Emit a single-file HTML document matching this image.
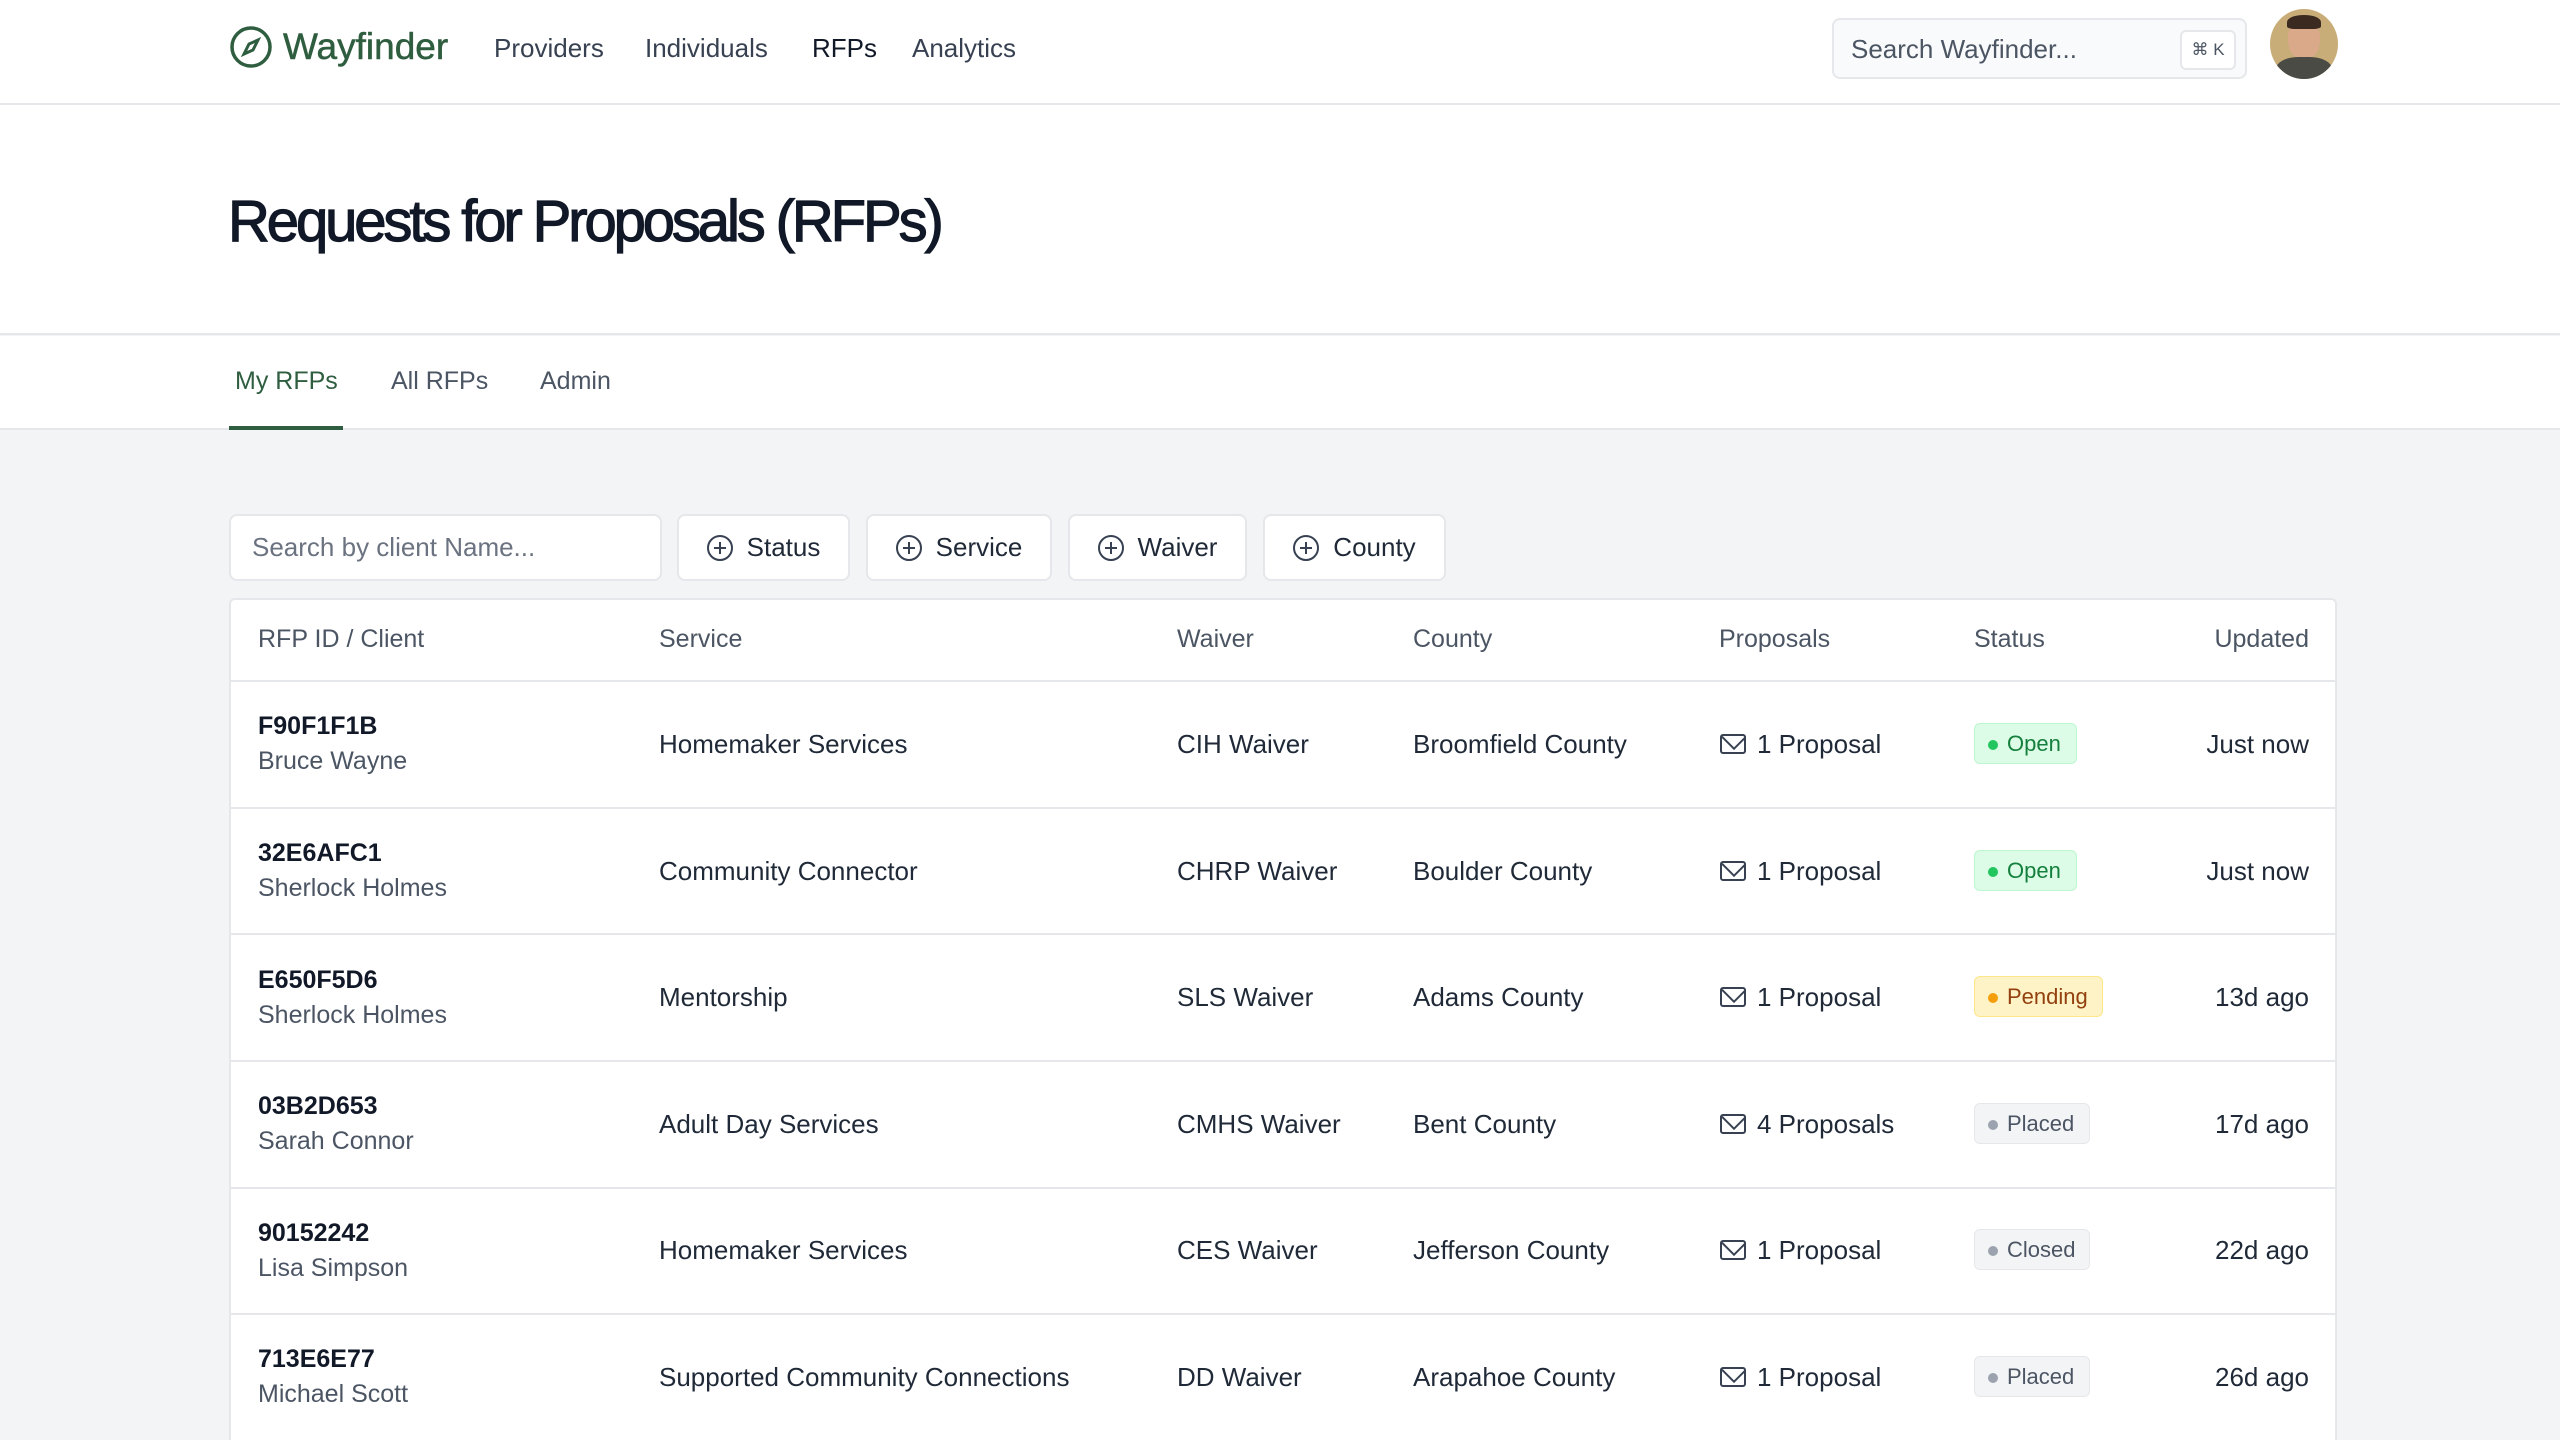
<!DOCTYPE html>
<html><head><meta charset="utf-8"><style>
*{box-sizing:border-box;margin:0;padding:0}
html{width:2560px;height:1440px;overflow:hidden}
body{width:2560px;height:1440px;overflow:hidden;background:#f3f4f6;font-family:"Liberation Sans",Arial,sans-serif;color:#111827;position:relative}
.a{position:absolute;white-space:nowrap}
.nav{position:absolute;left:0;top:0;width:2560px;height:105px;background:#fff;border-bottom:2px solid #e5e7eb}
.hdr{position:absolute;left:0;top:105px;width:2560px;height:230px;background:#fff;border-bottom:2px solid #e5e7eb}
.tabs{position:absolute;left:0;top:336px;width:2560px;height:94px;background:#fff;border-bottom:2px solid #e5e7eb}
.navl{font-size:26px;color:#374151;top:33px}
.btn{position:absolute;top:514px;height:67px;background:#fff;border:2px solid #e5e7eb;border-radius:8px;font-size:26px;color:#1f2937;display:flex;align-items:center;justify-content:center;gap:14px}
.plus{width:26px;height:26px;border:2px solid #374151;border-radius:50%;position:relative}
.plus:before{content:"";position:absolute;left:5px;top:10px;width:12px;height:2px;background:#374151}
.plus:after{content:"";position:absolute;left:10px;top:5px;width:2px;height:12px;background:#374151}
.table{position:absolute;left:229px;top:598px;width:2108px;height:842px;background:#fff;border:2px solid #e5e7eb;border-bottom:none;border-radius:6px 6px 0 0}
.th{font-size:25px;color:#4b5563;top:625px}
.line{position:absolute;left:230px;width:2106px;height:2px;background:#e5e7eb}
.c{font-size:26px;color:#1f2937}
.id{font-size:25px;font-weight:bold;color:#111827}
.nm{font-size:25px;color:#4b5563}
.badge{position:absolute;left:1974px;height:41px;border-radius:6px;font-size:22px;display:flex;align-items:center;padding-left:32px}
.badge:before{content:"";position:absolute;left:13px;top:16px;width:10px;height:10px;border-radius:50%;background:currentColor}
.open{background:#dcfce7;color:#15803d;border:1px solid #bbf7d0;width:103px}
.open:before{background:#22c55e}
.pend{background:#fef3c7;color:#92400e;border:1px solid #fde68a;width:129px}
.pend:before{background:#f59e0b}
.gray{background:#f3f4f6;color:#4b5563;border:1px solid #e5e7eb;width:116px}
.gray:before{background:#9ca3af}
.env{position:absolute;left:1720px;width:26px;height:20px;border:2px solid #374151;border-radius:3px;overflow:hidden}
.env:before{content:"";position:absolute;left:2px;top:-10px;width:16px;height:16px;border:2px solid #374151;transform:rotate(45deg)}
</style></head><body>
<div class="nav"></div>
<svg class="a" style="left:229px;top:25px" width="44" height="44" viewBox="0 0 44 44"><circle cx="22" cy="22" r="19" fill="none" stroke="#2f5d3f" stroke-width="3.5"/><path d="M29 15 L24 25 L15 29 L20 19 Z" fill="none" stroke="#2f5d3f" stroke-width="3"/></svg>
<div class="a" style="left:283px;top:26px;font-size:37px;color:#2f5d3f;-webkit-text-stroke:0.5px #2f5d3f">Wayfinder</div>
<div class="a navl" style="left:494px">Providers</div>
<div class="a navl" style="left:645px">Individuals</div>
<div class="a navl" style="left:812px;color:#111827">RFPs</div>
<div class="a navl" style="left:912px">Analytics</div>
<div class="a" style="left:1832px;top:18px;width:415px;height:61px;background:#f9fafb;border:2px solid #e5e7eb;border-radius:8px"></div>
<div class="a" style="left:1851px;top:34px;font-size:26px;color:#4b5563">Search Wayfinder...</div>
<div class="a" style="left:2180px;top:30px;width:56px;height:40px;background:#fff;border:2px solid #e5e7eb;border-radius:6px;font-size:17px;color:#4b5563;text-align:center;line-height:36px">⌘ K</div>
<div class="a" style="left:2270px;top:9px;width:68px;height:70px;border-radius:50%;background:#c8ad78;overflow:hidden"><div style="position:absolute;left:18px;top:10px;width:32px;height:40px;border-radius:45%;background:#d9a98a"></div><div style="position:absolute;left:17px;top:6px;width:34px;height:14px;border-radius:50% 50% 20% 20%;background:#3a2a20"></div><div style="position:absolute;left:6px;top:48px;width:56px;height:30px;border-radius:40% 40% 0 0;background:#4b4b45"></div></div>
<div class="hdr"></div>
<div class="a" style="left:228px;top:188px;font-size:58px;color:#111827;letter-spacing:-3.1px;-webkit-text-stroke:1.2px #111827">Requests for Proposals (RFPs)</div>
<div class="tabs"></div>
<div class="a" style="left:235px;top:367px;font-size:25px;color:#2f5d3f">My RFPs</div>
<div class="a" style="left:229px;top:426px;width:114px;height:4px;background:#2f5d3f"></div>
<div class="a" style="left:391px;top:367px;font-size:25px;color:#4b5563">All RFPs</div>
<div class="a" style="left:540px;top:367px;font-size:25px;color:#4b5563">Admin</div>
<div class="btn" style="left:229px;width:433px;justify-content:flex-start;padding-left:21px;color:#6b7280">Search by client Name...</div>
<div class="btn" style="left:677px;width:173px"><span class="plus"></span>Status</div>
<div class="btn" style="left:866px;width:186px"><span class="plus"></span>Service</div>
<div class="btn" style="left:1068px;width:179px"><span class="plus"></span>Waiver</div>
<div class="btn" style="left:1263px;width:183px"><span class="plus"></span>County</div>
<div class="table"></div>
<div class="a th" style="left:258px">RFP ID / Client</div>
<div class="a th" style="left:659px">Service</div>
<div class="a th" style="left:1177px">Waiver</div>
<div class="a th" style="left:1413px">County</div>
<div class="a th" style="left:1719px">Proposals</div>
<div class="a th" style="left:1974px">Status</div>
<div class="a th" style="right:251px">Updated</div>
<div class="line" style="top:680px"></div>
<div class="line" style="top:807px"></div>
<div class="line" style="top:933px"></div>
<div class="line" style="top:1060px"></div>
<div class="line" style="top:1187px"></div>
<div class="line" style="top:1313px"></div>

<div class="a id" style="left:258px;top:712px">F90F1F1B</div>
<div class="a nm" style="left:258px;top:747px">Bruce Wayne</div>
<div class="a c" style="left:659px;top:729px">Homemaker Services</div>
<div class="a c" style="left:1177px;top:729px">CIH Waiver</div>
<div class="a c" style="left:1413px;top:729px">Broomfield County</div>
<div class="env" style="top:734px"></div><div class="a c" style="left:1757px;top:729px">1 Proposal</div>
<div class="badge open" style="top:723px">Open</div>
<div class="a c" style="right:251px;top:729px">Just now</div>

<div class="a id" style="left:258px;top:839px">32E6AFC1</div>
<div class="a nm" style="left:258px;top:874px">Sherlock Holmes</div>
<div class="a c" style="left:659px;top:856px">Community Connector</div>
<div class="a c" style="left:1177px;top:856px">CHRP Waiver</div>
<div class="a c" style="left:1413px;top:856px">Boulder County</div>
<div class="env" style="top:861px"></div><div class="a c" style="left:1757px;top:856px">1 Proposal</div>
<div class="badge open" style="top:850px">Open</div>
<div class="a c" style="right:251px;top:856px">Just now</div>

<div class="a id" style="left:258px;top:966px">E650F5D6</div>
<div class="a nm" style="left:258px;top:1001px">Sherlock Holmes</div>
<div class="a c" style="left:659px;top:982px">Mentorship</div>
<div class="a c" style="left:1177px;top:982px">SLS Waiver</div>
<div class="a c" style="left:1413px;top:982px">Adams County</div>
<div class="env" style="top:987px"></div><div class="a c" style="left:1757px;top:982px">1 Proposal</div>
<div class="badge pend" style="top:976px">Pending</div>
<div class="a c" style="right:251px;top:982px">13d ago</div>

<div class="a id" style="left:258px;top:1092px">03B2D653</div>
<div class="a nm" style="left:258px;top:1127px">Sarah Connor</div>
<div class="a c" style="left:659px;top:1109px">Adult Day Services</div>
<div class="a c" style="left:1177px;top:1109px">CMHS Waiver</div>
<div class="a c" style="left:1413px;top:1109px">Bent County</div>
<div class="env" style="top:1114px"></div><div class="a c" style="left:1757px;top:1109px">4 Proposals</div>
<div class="badge gray" style="top:1103px">Placed</div>
<div class="a c" style="right:251px;top:1109px">17d ago</div>

<div class="a id" style="left:258px;top:1219px">90152242</div>
<div class="a nm" style="left:258px;top:1254px">Lisa Simpson</div>
<div class="a c" style="left:659px;top:1235px">Homemaker Services</div>
<div class="a c" style="left:1177px;top:1235px">CES Waiver</div>
<div class="a c" style="left:1413px;top:1235px">Jefferson County</div>
<div class="env" style="top:1240px"></div><div class="a c" style="left:1757px;top:1235px">1 Proposal</div>
<div class="badge gray" style="top:1229px">Closed</div>
<div class="a c" style="right:251px;top:1235px">22d ago</div>

<div class="a id" style="left:258px;top:1345px">713E6E77</div>
<div class="a nm" style="left:258px;top:1380px">Michael Scott</div>
<div class="a c" style="left:659px;top:1362px">Supported Community Connections</div>
<div class="a c" style="left:1177px;top:1362px">DD Waiver</div>
<div class="a c" style="left:1413px;top:1362px">Arapahoe County</div>
<div class="env" style="top:1367px"></div><div class="a c" style="left:1757px;top:1362px">1 Proposal</div>
<div class="badge gray" style="top:1356px">Placed</div>
<div class="a c" style="right:251px;top:1362px">26d ago</div>
</body></html>
